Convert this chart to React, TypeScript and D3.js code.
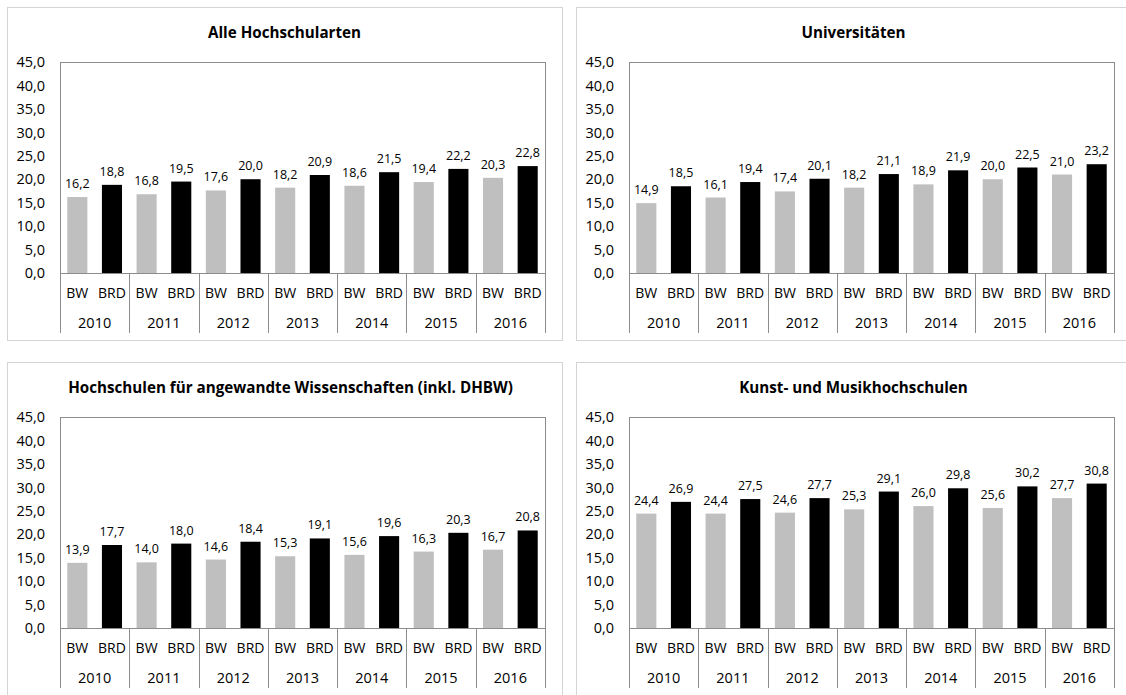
import React from "react";
import * as d3 from "d3";

// Jahre und Reihen
const years = ["2010", "2011", "2012", "2013", "2014", "2015", "2016"];
const seriesKeys = ["BW", "BRD"];
const yTicks = [0, 5, 10, 15, 20, 25, 30, 35, 40, 45];

// Werte je Hochschulart
const alleBW = [16.2, 16.8, 17.6, 18.2, 18.6, 19.4, 20.3];
const alleBRD = [18.8, 19.5, 20.0, 20.9, 21.5, 22.2, 22.8];
const uniBW = [14.9, 16.1, 17.4, 18.2, 18.9, 20.0, 21.0];
const uniBRD = [18.5, 19.4, 20.1, 21.1, 21.9, 22.5, 23.2];
const hawBW = [13.9, 14.0, 14.6, 15.3, 15.6, 16.3, 16.7];
const hawBRD = [17.7, 18.0, 18.4, 19.1, 19.6, 20.3, 20.8];
const kunstBW = [24.4, 24.4, 24.6, 25.3, 26.0, 25.6, 27.7];
const kunstBRD = [26.9, 27.5, 27.7, 29.1, 29.8, 30.2, 30.8];

const panels = [
  { title: "Alle Hochschularten", bw: alleBW, brd: alleBRD, x: 7, y: 7, h: 333, tx: 0 },
  { title: "Universitäten", bw: uniBW, brd: uniBRD, x: 576, y: 7, h: 333, tx: 0 },
  { title: "Hochschulen für angewandte Wissenschaften (inkl. DHBW)", bw: hawBW, brd: hawBRD, x: 7, y: 362, h: 360, tx: 6 },
  { title: "Kunst- und Musikhochschulen", bw: kunstBW, brd: kunstBRD, x: 576, y: 362, h: 360, tx: 0 },
];

const colors: Record<string, string> = { BW: "#bfbfbf", BRD: "#000000" };
const FONT = "'Open Sans', 'Noto Sans', sans-serif";
const fmt = (v: number) => d3.format(".1f")(v).replace(".", ",");

const PANEL_W = 555;
const PLOT_LEFT = 53;
const PLOT_W = 485;
const PLOT_TOP = 55;
const PLOT_ZERO = 266;

function Panel({ p }: { p: (typeof panels)[number] }) {
  const left = p.x + PLOT_LEFT;
  const right = left + PLOT_W;
  const top = p.y + PLOT_TOP;
  const zero = p.y + PLOT_ZERO;

  const y = d3.scaleLinear().domain([0, 45]).range([zero, top]);
  const x0 = d3.scaleBand<string>().domain(years).range([left, right]).padding(0);
  const x1 = d3
    .scaleBand<string>()
    .domain(seriesKeys)
    .range([0, x0.bandwidth()])
    .paddingInner(0.42)
    .paddingOuter(0.21);
  const half = x0.bandwidth() / 2;

  const bars = years.flatMap((yr, i) =>
    seriesKeys.map((k) => ({ yr, k, v: k === "BW" ? p.bw[i] : p.brd[i] }))
  );

  const sepBottom = zero + 60;

  return (
    <g>
      <rect x={p.x + 0.5} y={p.y + 0.5} width={PANEL_W} height={p.h} fill="#fff" stroke="#d4d4d4" strokeWidth={1} />
      <text
        x={p.x + PANEL_W / 2 + p.tx}
        y={p.y + 30.5}
        textAnchor="middle"
        fontFamily={FONT}
        fontWeight={700}
        fontSize={15.2}
        fill="#000"
      >
        {p.title}
      </text>

      {/* y-Achsenbeschriftung */}
      {yTicks.map((t) => (
        <text
          key={t}
          x={left - 15}
          y={y(t)}
          dy="0.36em"
          textAnchor="end"
          fontFamily={FONT}
          fontSize={14.5}
          fill="#000"
        >
          {fmt(t)}
        </text>
      ))}

      {/* Balken */}
      {bars.map((b) => (
        <rect
          key={b.yr + b.k}
          x={(x0(b.yr) as number) + (x1(b.k) as number)}
          y={y(b.v)}
          width={x1.bandwidth()}
          height={zero - y(b.v)}
          fill={colors[b.k]}
        />
      ))}

      {/* Werte über den Balken */}
      {bars.map((b) => (
        <text
          key={"l" + b.yr + b.k}
          x={(x0(b.yr) as number) + (x1(b.k) as number) + x1.bandwidth() / 2}
          y={y(b.v) - 9}
          textAnchor="middle"
          fontFamily={FONT}
          fontSize={12.5}
          fill="#000"
        >
          {fmt(b.v)}
        </text>
      ))}

      {/* Rahmen der Zeichenfläche */}
      <line x1={left} x2={right} y1={top + 0.5} y2={top + 0.5} stroke="#8c8c8c" />
      <line x1={left} x2={right} y1={zero + 0.5} y2={zero + 0.5} stroke="#8c8c8c" />
      <line x1={left + 0.5} x2={left + 0.5} y1={top} y2={sepBottom} stroke="#8c8c8c" />
      {years.map((yr, i) => {
        const xs = Math.round((x0(yr) as number) + x0.bandwidth()) + 0.5;
        return (
          <line
            key={"s" + yr}
            x1={xs}
            x2={xs}
            y1={i === years.length - 1 ? top : zero}
            y2={sepBottom}
            stroke="#8c8c8c"
          />
        );
      })}

      {/* Kategorien */}
      {years.map((yr) =>
        seriesKeys.map((k) => (
          <text
            key={"c" + yr + k}
            x={(x0(yr) as number) + (x1(k) as number) + x1.bandwidth() / 2}
            y={zero + 25}
            textAnchor="middle"
            fontFamily={FONT}
            fontSize={14}
            fill="#000"
          >
            {k}
          </text>
        ))
      )}
      {years.map((yr) => (
        <text
          key={"y" + yr}
          x={(x0(yr) as number) + half}
          y={zero + 55}
          textAnchor="middle"
          fontFamily={FONT}
          fontSize={14.5}
          fill="#000"
        >
          {yr}
        </text>
      ))}
    </g>
  );
}

export default function App() {
  return (
    <svg
      width={1126}
      height={695}
      style={{ position: "absolute", left: 0, top: 0, background: "#fff" }}
    >
      <rect width={1126} height={695} fill="#fff" />
      {panels.map((p) => (
        <Panel key={p.title} p={p} />
      ))}
    </svg>
  );
}
